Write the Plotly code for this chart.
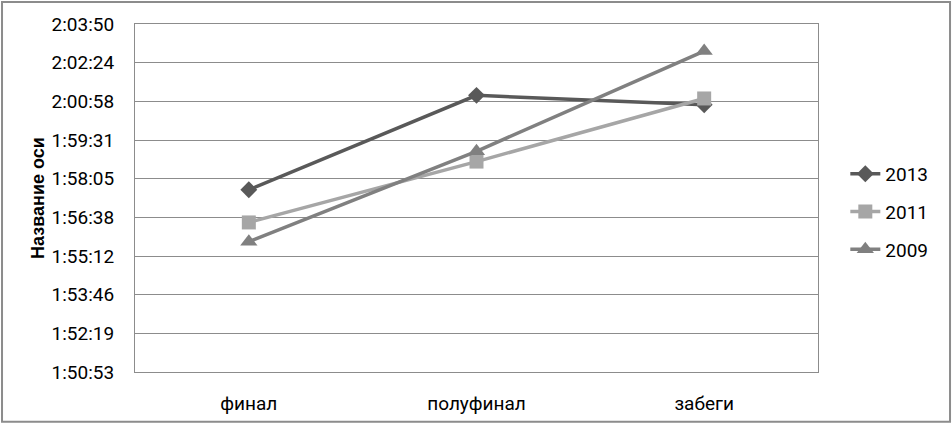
import plotly.graph_objects as go

# ==========================================
# Data
# ==========================================
stages = ["финал", "полуфинал", "забеги"]

times_2013 = ["1:57:40", "2:01:11", "2:00:50"]
times_2011 = ["1:56:27", "1:58:43", "2:01:04"]
times_2009 = ["1:55:44", "1:59:06", "2:02:50"]

# Excel-style time axis: major unit 0.001 day, from 0.077 to 0.086 day
tick_labels = ["1:50:53", "1:52:19", "1:53:46", "1:55:12", "1:56:38",
               "1:58:05", "1:59:31", "2:00:58", "2:02:24", "2:03:50"]
axis_min_day = 0.077
axis_step_day = 0.001


def to_seconds(t):
    h, m, s = (int(p) for p in t.split(":"))
    return h * 3600 + m * 60 + s


tick_vals = [(axis_min_day + i * axis_step_day) * 86400 for i in range(len(tick_labels))]

series = [
    ("2013", times_2013, "#595959", "diamond", 13),
    ("2011", times_2011, "#a6a6a6", "square", 14),
    ("2009", times_2009, "#808080", "triangle-up", 15),
]

FONT = "Roboto, Arial, sans-serif"
GRID = "#8c8c8c"

fig = go.Figure()
for name, vals, color, symbol, msize in series:
    fig.add_trace(go.Scatter(
        x=stages,
        y=[to_seconds(v) for v in vals],
        name=name,
        legendgroup=name,
        mode="lines+markers",
        line=dict(color=color, width=3.5),
        marker=dict(symbol=symbol, size=msize, color=color),
    ))

fig.update_layout(
    width=952,
    height=427,
    margin=dict(l=135, r=134, t=24, b=53),
    paper_bgcolor="white",
    plot_bgcolor="white",
    font=dict(family=FONT, size=19, color="#000000"),
    showlegend=True,
    legend=dict(
        x=1.04, xanchor="left",
        y=0.46, yanchor="middle",
        font=dict(family=FONT, size=19),
        tracegroupgap=10,
        bgcolor="rgba(0,0,0,0)",
    ),
    xaxis=dict(
        type="category",
        range=[-0.5, 2.5],
        showgrid=False,
        showline=True, mirror=True, linecolor=GRID, linewidth=1,
        ticks="",
        ticklabelstandoff=14,
        tickfont=dict(family=FONT, size=19),
    ),
    yaxis=dict(
        range=[tick_vals[0], tick_vals[-1]],
        tickvals=tick_vals,
        ticktext=tick_labels,
        showgrid=True, gridcolor=GRID, gridwidth=1,
        showline=True, mirror=True, linecolor=GRID, linewidth=1,
        zeroline=False,
        ticks="",
        ticklabelstandoff=16,
        tickfont=dict(family=FONT, size=19),
        title=dict(text="<b>Название оси</b>",
                   font=dict(family="Liberation Sans, Arial, sans-serif", size=18),
                   standoff=2),
    ),
    shapes=[dict(
        type="rect", xref="paper", yref="paper",
        x0=-0.1947, x1=1.1933, y0=-0.1429, y1=1.0629,
        line=dict(color="#8c8c8c", width=2),
        fillcolor="rgba(0,0,0,0)",
        layer="below",
    )],
)

# drop the default 8px body margin so the figure sits at the page corner
fig.write_html("out.html", config={"displayModeBar": False},
               post_script="document.body.style.margin='0';")
